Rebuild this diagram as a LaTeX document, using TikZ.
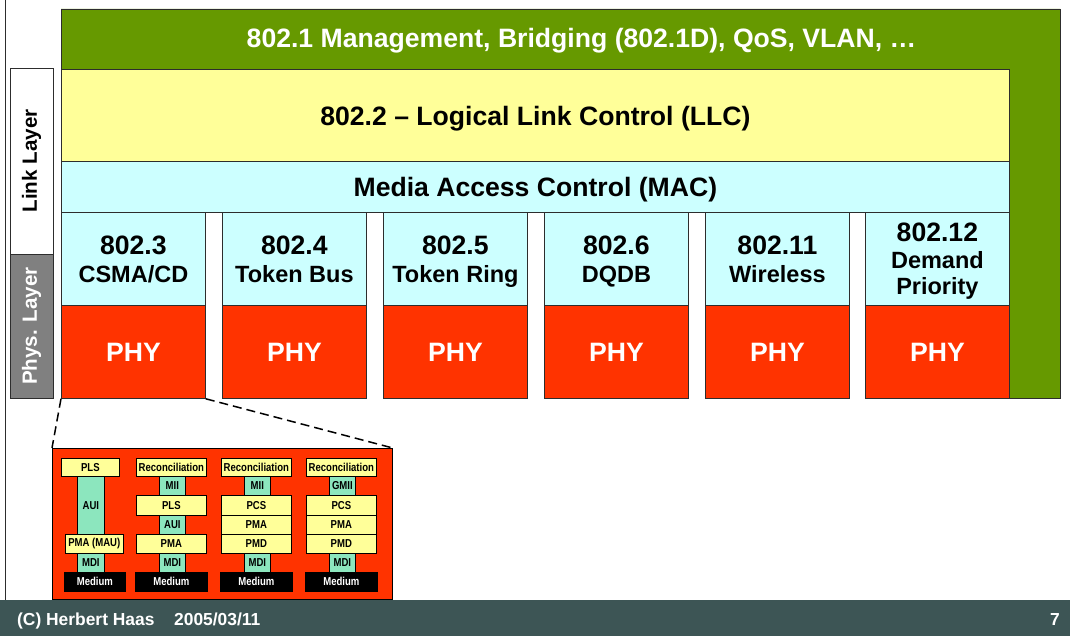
\documentclass[tikz,border=0pt]{standalone}
\usepackage{fontspec}
\setmainfont{Liberation Sans}
\newfontfamily\narrowfont[FakeStretch=0.83]{Liberation Sans}
\definecolor{mgmtgreen}{RGB}{102,153,0}
\definecolor{llcyellow}{RGB}{255,255,153}
\definecolor{maccyan}{RGB}{204,255,255}
\definecolor{phyred}{RGB}{255,51,0}
\definecolor{layergray}{RGB}{128,128,128}
\definecolor{ifgreen}{RGB}{140,230,190}
\definecolor{footgray}{RGB}{61,85,85}
\definecolor{boxedge}{RGB}{45,45,45}
\newcommand{\nodepth}[1]{\raisebox{0pt}[\height][0pt]{#1}}

\begin{document}
\begin{tikzpicture}[x=1pt, y=-1pt,
    box/.style={draw=boxedge, line width=0.8pt, anchor=north west, inner sep=0pt,
      align=center, font=\bfseries\fontsize{26.6}{30}\selectfont},
    stdbox/.style={box, fill=maccyan, minimum width=144pt, minimum height=93pt,
      font=\bfseries\fontsize{23.5}{28}\selectfont},
    phybox/.style={box, fill=phyred, text=white, minimum width=144pt,
      minimum height=93pt, text depth=0pt},
    sidebox/.style={draw=boxedge, line width=0.8pt, rotate=90, minimum height=43pt,
      inner sep=0pt, font=\bfseries\fontsize{20.6}{24}\selectfont},
    wide/.style={draw=black, line width=0.7pt, fill=llcyellow, anchor=north west,
      inner sep=0pt, minimum width=70pt, font=\narrowfont\bfseries\fontsize{11.5}{12}\selectfont},
    narrow/.style={wide, fill=ifgreen, minimum width=26pt},
    medium/.style={wide, fill=black, text=white, minimum width=72pt, minimum height=19pt},
    footer/.style={text=white, inner sep=0pt, font=\bfseries\fontsize{17.4}{20}\selectfont}]
  \useasboundingbox (0,0) rectangle (1070,636);

  % frame and footer
  \draw[boxedge, line width=0.8pt] (5,0) -- (5,600);
  \fill[footgray] (0,600) rectangle (1070,636);
  \node[footer, anchor=base west] (author) at (17,625) {(C) Herbert Haas};
  \node[footer, anchor=base west] (date) at (174,625) {2005/03/11};
  \node[footer, anchor=base east] (page) at (1060,625) {7};

  % layers
  \draw[boxedge, line width=0.8pt, fill=mgmtgreen]
    (61,9) -- (1060,9) -- (1060,398) -- (1009,398) -- (1009,69) -- (61,69) -- cycle;
  \node[text=white, inner sep=0pt, anchor=base, font=\bfseries\fontsize{26.6}{30}\selectfont]
    (mgmtlabel) at (581.5,48) {802.1 Management, Bridging (802.1D), QoS, VLAN, …};
  \node[box, fill=llcyellow, minimum width=948pt, minimum height=92pt, text depth=0pt]
    (llc) at (61,69) {802.2 -- Logical Link Control (LLC)};
  \node[box, fill=maccyan, minimum width=948pt, minimum height=51pt, text depth=0pt]
    (mac) at (61,161) {Media Access Control (MAC)};

  \foreach \cx/\std/\name [count=\i] in {61/802.3/CSMA\slash CD, 222/802.4/Token Bus,
      383/802.5/Token Ring, 544/802.6/DQDB, 705/802.11/Wireless}{
    \node[stdbox] (std\i) at (\cx,212) {{\fontsize{26.6}{28}\selectfont \std}\\\nodepth{\name}};
    \node[phybox] (phy\i) at (\cx,305) {PHY};
  }
  \node[stdbox, font=\bfseries\fontsize{23.5}{26.5}\selectfont] (std6) at (865,212)
    {{\fontsize{26.6}{26.5}\selectfont 802.12}\\Demand\\\nodepth{Priority}};
  \node[phybox] (phy6) at (865,305) {PHY};

  \node[sidebox, fill=white, minimum width=186pt] (link) at (31.5,161) {Link Layer};
  \node[sidebox, fill=layergray, text=white, minimum width=144pt] (phys) at (31.5,326) {Phys. Layer};

  % PHY detail
  \node[box, draw=black, fill=phyred, minimum width=340pt, minimum height=151pt] (zoom) at (52,448) {};
  \draw[line width=1.5pt, dash pattern=on 9pt off 5pt] (phy1.south west) -- (zoom.north west);
  \draw[line width=1.5pt, dash pattern=on 9pt off 5pt] (phy1.south east) -- (zoom.north east);

  \node[wide, minimum width=58pt, minimum height=18pt] (pls1) at (61,458) {PLS};
  \node[narrow, minimum width=27pt, minimum height=58pt] (aui1) at (77,476) {AUI};
  \node[wide, minimum width=58pt, minimum height=19pt] (pma1) at (65,534) {PMA (MAU)};
  \node[narrow, minimum width=27pt, minimum height=19pt] (mdi1) at (77,553) {MDI};
  \node[medium, minimum width=61pt] (med1) at (64,572) {Medium};

  \node[wide, minimum height=18pt] (rec2) at (136,458) {Reconciliation};
  \node[narrow, minimum height=19pt] (mii2) at (159,476) {MII};
  \node[wide, minimum height=20pt] (pls2) at (136,495) {PLS};
  \node[narrow, minimum height=19pt] (aui2) at (159,515) {AUI};
  \node[wide, minimum height=19pt] (pma2) at (136,534) {PMA};
  \node[narrow, minimum height=19pt] (mdi2) at (159,553) {MDI};
  \node[medium] (med2) at (135,572) {Medium};

  \foreach \cx/\mii/\k in {221/MII/3, 306/GMII/4}{
    \node[wide, minimum height=18pt] (rec\k) at (\cx,458) {Reconciliation};
    \node[narrow, minimum height=19pt] (mii\k) at (\cx+23,476) {\mii};
    \node[wide, minimum height=20pt] (pcs\k) at (\cx,495) {PCS};
    \node[wide, minimum height=19pt] (pma\k) at (\cx,515) {PMA};
    \node[wide, minimum height=19pt] (pmd\k) at (\cx,534) {PMD};
    \node[narrow, minimum height=19pt] (mdi\k) at (\cx+23,553) {MDI};
    \node[medium] (med\k) at (\cx-1,572) {Medium};
  }
\end{tikzpicture}
\end{document}
